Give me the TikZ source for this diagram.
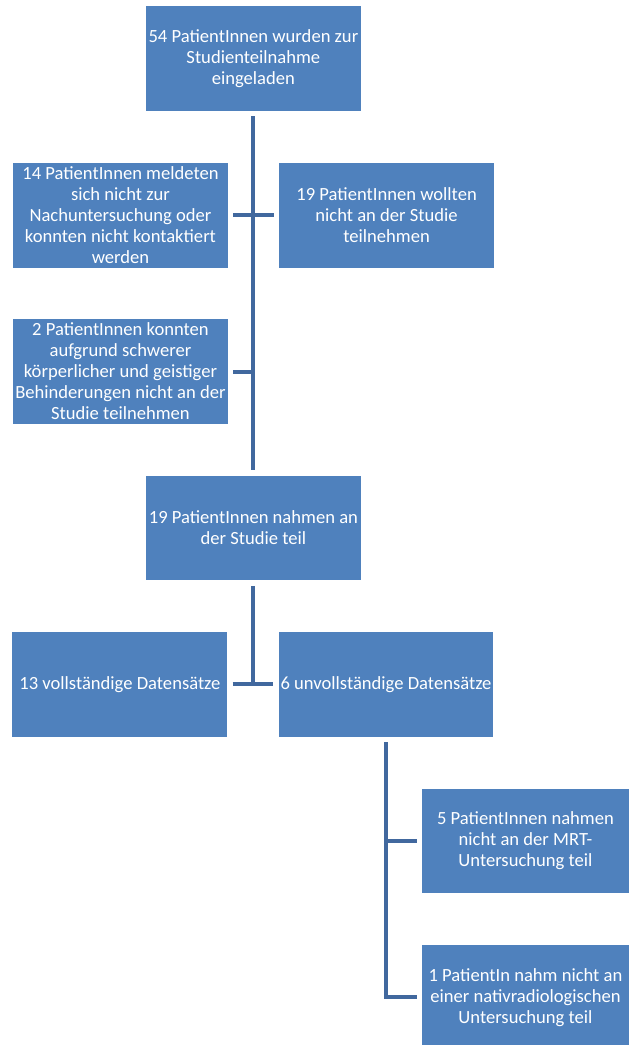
\documentclass[tikz,border=0pt]{standalone}
\usepackage{fontspec}
\setmainfont{Carlito}
\usepackage{tikz}
\definecolor{boxblue}{HTML}{4F81BD}
\definecolor{lineblue}{HTML}{41689E}

\begin{document}
\begin{tikzpicture}
	\useasboundingbox (0, 0) rectangle (22.19, -36.87);
	\tikzstyle{every node} = [rectangle, fill=boxblue, text=white, align=center, inner sep=0pt, outer sep=0.19cm, minimum width=7.58cm, minimum height=3.70cm, font=\fontsize{18.6bp}{21bp}\selectfont]
	\tikzstyle{small} = [minimum width=7.30cm]
	\tikzstyle{conn} = [draw=lineblue, line width=4bp]
	\node (top) at (8.94, -2.06) {54 PatientInnen wurden zur\\Studienteilnahme\\eingeladen};
	\node (nomeld) at (4.25, -7.60) {14 PatientInnen meldeten\\sich nicht zur\\Nachuntersuchung oder\\konnten nicht kontaktiert\\werden};
	\node (nowill) at (13.64, -7.60) {19 PatientInnen wollten\\nicht an der Studie\\teilnehmen};
	\node (behind) at (4.25, -13.11) {2 PatientInnen konnten\\aufgrund schwerer\\k\"orperlicher und geistiger\\Behinderungen nicht an der\\Studie teilnehmen};
	\node (teil) at (8.94, -18.63) {19 PatientInnen nahmen an\\der Studie teil};
	\node (voll) at (4.23, -24.15) {13 vollst\"andige Datens\"atze};
	\node (unvoll) at (13.62, -24.15) {6 unvollst\"andige Datens\"atze};
	\node[small] (mrt) at (18.54, -29.67) {5 PatientInnen nahmen\\nicht an der MRT-\\Untersuchung teil};
	\node[small] (nativ) at (18.54, -35.19) {1 PatientIn nahm nicht an\\einer nativradiologischen\\Untersuchung teil};
	\draw [conn] (top.south)--(teil.north);
	\draw [conn] (nomeld.east)--(nowill.west);
	\draw [conn] (behind.east)--(behind.east -| top.south);
	\draw [conn] (teil.south)--(teil.south |- voll.east);
	\draw [conn] (voll.east)--(unvoll.west);
	\draw [conn] (unvoll.south) |- (nativ.west);
	\draw [conn] (mrt.west)--(mrt.west -| unvoll.south);
\end{tikzpicture}
\end{document}
